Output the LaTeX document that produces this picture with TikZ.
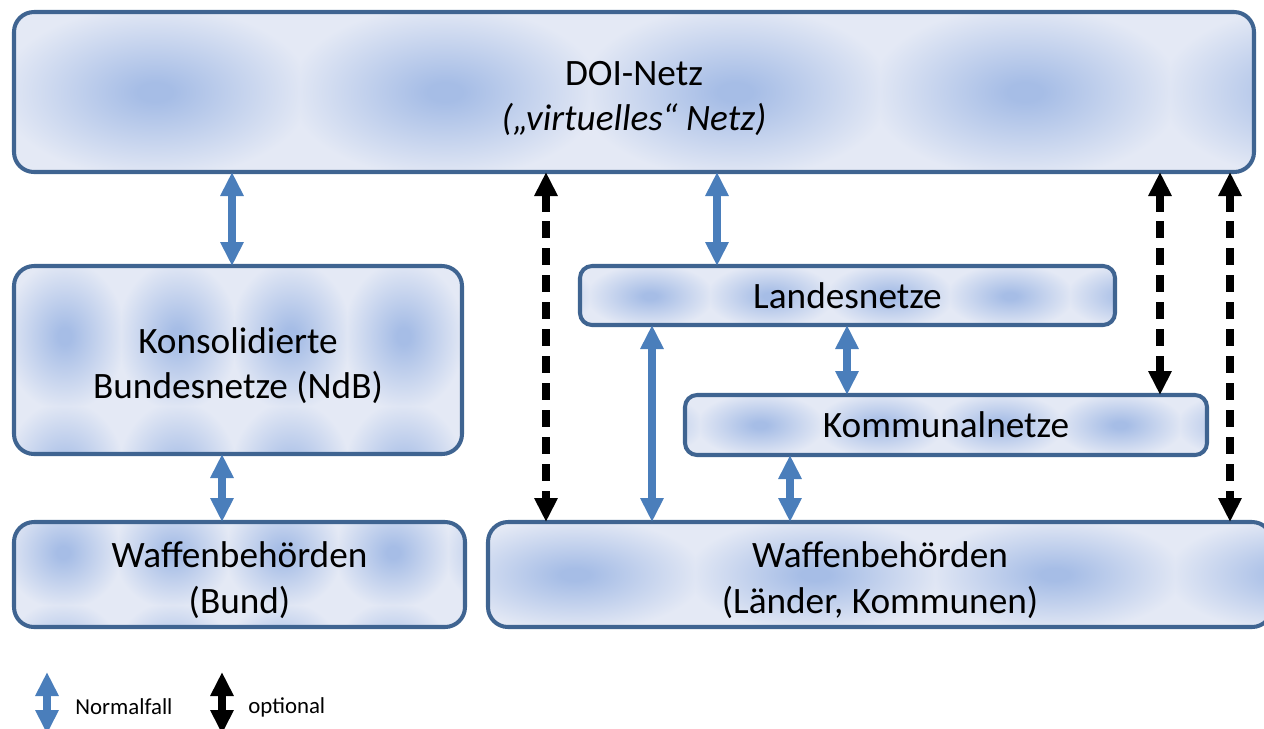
\documentclass[tikz,border=0pt]{standalone}
\usepackage{fontspec}
\setmainfont{Carlito}
\usetikzlibrary{arrows.meta,backgrounds}
\definecolor{tin}{HTML}{A6BDE6}
\definecolor{tout}{HTML}{E4E9F5}
\definecolor{bord}{HTML}{3F6491}
\definecolor{arrblue}{HTML}{4A7EBB}
\pgfdeclareradialshading{tile}{\pgfpoint{0bp}{0bp}}{color(0bp)=(tin); color(3bp)=(tin); color(27bp)=(tout); color(50bp)=(tout)}
% #1 node, #2 corner radius, #3 x0, #4 y0, #5 tile w, #6 tile h, #7 nx, #8 ny
\newcommand\tilebox[8]{%
  \begin{scope}
    \clip[rounded corners=#2] (#1.north west) rectangle (#1.south east);
    \foreach \i in {1,...,#7}{\foreach \j in {1,...,#8}{%
      \shade[shading=tile] ({#3+(\i-1)*#5},{#4+(\j-1)*#6}) rectangle ++(#5,#6);}}
  \end{scope}}
\newcommand\tstrut{\rule{0pt}{21pt}}
\begin{document}
\begin{tikzpicture}[x=0.02cm,y=-0.02cm,
  box/.style={draw=bord, line width=2.3pt, rounded corners=0.4cm, align=center,
    font=\fontsize{21.2}{26}\selectfont, inner sep=0pt, outer sep=0pt},
  sz/.style 2 args={minimum width=#1*0.02cm, minimum height=#2*0.02cm},
  normarrow/.style={draw=arrblue, line width=0.16cm,
    {Triangle[width=0.44cm,length=0.48cm]}-{Triangle[width=0.44cm,length=0.48cm]}},
  optarrow/.style={draw=black, line width=0.17cm, dash pattern=on 0.34cm off 0.2cm,
    {Triangle[width=0.44cm,length=0.48cm]}-{Triangle[width=0.44cm,length=0.48cm]}},
  legtext/.style={anchor=west, font=\fontsize{13}{15}\selectfont, inner sep=0pt}
]
\useasboundingbox (0,0) rectangle (1264,728);

\node[box, sz={1240}{160}] (doi) at (634,92)
  {\tstrut DOI-Netz\\\textit{(„virtuelles“ Netz)}};
\node[box, sz={448}{188}] (kons) at (238,360)
  {\tstrut Konsolidierte\\Bundesnetze (NdB)};
\node[box, sz={451}{105}] (bund) at (239.5,574.5)
  {\tstrut Waffenbehörden\\(Bund)};
\node[box, sz={784}{105}] (laender) at (880,574.5)
  {\tstrut Waffenbehörden\\(Länder, Kommunen)};
\node[box, sz={535}{59}, rounded corners=0.24cm] (land) at (847.5,295.5)
  {Landesnetze};
\node[box, sz={522}{60}, rounded corners=0.24cm] (komm) at (946,425)
  {Kommunalnetze};

\begin{scope}[on background layer]
  \tilebox{doi}{0.4cm}{10}{12}{290}{160}{5}{1}
  \tilebox{kons}{0.4cm}{8}{266}{113}{140}{5}{2}
  \tilebox{bund}{0.4cm}{8}{500}{110}{105}{5}{2}
  \tilebox{laender}{0.4cm}{455}{522}{240}{105}{4}{1}
  \tilebox{land}{0.24cm}{470}{266}{120}{60}{6}{1}
  \tilebox{komm}{0.24cm}{580}{395}{120}{60}{6}{1}
\end{scope}

\draw[normarrow] (232,0 |- doi.south) -- (232,0 |- kons.north);
\draw[normarrow] (717,0 |- doi.south) -- (717,0 |- land.north);
\draw[normarrow] (222,0 |- kons.south) -- (222,0 |- bund.north);
\draw[normarrow] (847,0 |- land.south) -- (847,0 |- komm.north);
\draw[normarrow] (652,0 |- land.south) -- (652,0 |- laender.north);
\draw[normarrow] (790,0 |- komm.south) -- (790,0 |- laender.north);
\draw[optarrow] (546,0 |- doi.south) -- (546,0 |- laender.north);
\draw[optarrow] (1160,0 |- doi.south) -- (1160,0 |- komm.north);
\draw[optarrow] (1230,0 |- doi.south) -- (1230,0 |- laender.north);

\coordinate (lb1) at (47,672);
\coordinate (lb2) at (47,734);
\coordinate (lk1) at (222,672);
\coordinate (lk2) at (222,734);
\draw[normarrow] (lb1) -- (lb2);
\draw[draw=black, line width=0.16cm,
  {Triangle[width=0.44cm,length=0.48cm]}-{Triangle[width=0.44cm,length=0.48cm]}] (lk1) -- (lk2);
\node[legtext] (t1) at (75,707) {Normalfall};
\node[legtext] (t2) at (248,707) {optional};
\end{tikzpicture}
\end{document}
